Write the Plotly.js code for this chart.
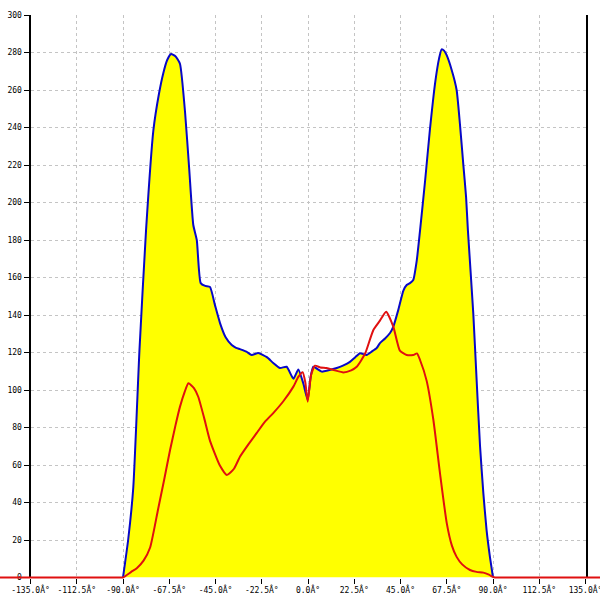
<!DOCTYPE html>
<html>
<head>
<meta charset="utf-8">
<script src="https://cdn.plot.ly/plotly-3.0.1.min.js"></script>
<style>html,body{margin:0;padding:0;background:#fff;}#chart{width:600px;height:600px;}</style>
</head>
<body>
<div id="chart"></div>
<script>
// Blue (total) curve, filled yellow
var blueAngle = [-90, -87.5, -85, -82, -78.8, -75.2, -72.5, -70.4, -68.5, -66.6, -64.5, -62.3, -59.8, -57.8, -55.8, -54.1, -52.2, -50, -47.7, -45.2, -42.8, -40, -37.1, -35, -33.1, -30, -27.4, -24.2, -20, -16.9, -13.6, -10.4, -7.1, -4.7, -2.3, -0.15, 1.3, 2.6, 6.7, 10, 14, 17, 20.4, 23, 25.3, 28.5, 31, 33.4, 35, 37.5, 39.9, 41.5, 44, 46.4, 48, 49.6, 51.2, 52.9, 54.5, 57, 59.3, 62, 63.8, 65, 66.2, 67.4, 69.9, 72.3, 73.9, 75.5, 76.9, 77.8, 80.4, 82, 83.7, 85.3, 86.9, 88.5, 90];
var blueValue = [0, 20, 48, 121, 185, 238.7, 258, 269, 276, 279.2, 278, 274, 248, 218, 188, 180, 157, 155.5, 155, 145, 135.7, 128, 124, 122.5, 121.8, 120.5, 118.7, 119.7, 117.5, 114.4, 111.7, 112.4, 106, 111, 103.6, 94.7, 107, 112.4, 109.8, 110.5, 111.7, 113, 115, 117.5, 119.6, 118.7, 120.5, 122.4, 125, 127.5, 130.4, 133.8, 143, 153, 156, 157, 158.7, 169, 185, 212, 238.7, 265, 277, 281.7, 281, 278.7, 270.7, 260, 242, 221, 203, 185, 141, 106, 70, 45, 25, 11, 0];

// Red curve
var redAngle = [-150, -95, -91, -90, -86, -83.3, -80, -76.8, -73, -70, -67.1, -64.5, -62.3, -60, -58.2, -55.5, -53.4, -50.5, -47.7, -43, -39.5, -36, -33.1, -29, -25, -21, -16.9, -12, -7.1, -4.7, -2.6, -1.3, -0.15, 1.5, 3.4, 6, 9.1, 13, 17.2, 21, 23.7, 26, 28, 31.8, 35, 38, 41.5, 44.7, 48, 51.2, 53, 54.5, 57.7, 61, 64.2, 67.5, 70, 72.3, 75, 78.8, 82, 85.3, 88, 90, 91, 95, 150];
var redValue = [0, 0, 0, 0, 3, 5, 9, 16, 36, 52, 68, 81, 91, 99, 103.6, 101, 96.4, 85, 73, 60, 54.7, 58, 64.4, 71, 77, 83, 87.7, 94, 101.8, 107, 109.5, 104, 93.8, 108, 113, 112, 111.7, 110.5, 109.4, 110.5, 112.4, 116, 120, 132, 137, 141.8, 133.8, 121, 118.7, 118.7, 119.5, 116, 105, 84, 55.7, 29, 17, 11, 7, 4, 3, 2.6, 1.5, 0.3, 0, 0, 0];

// Tick labels
var xTickVals = [-135, -112.5, -90, -67.5, -45, -22.5, 0, 22.5, 45, 67.5, 90, 112.5, 135];
var xTickText = ["-135.0\u00c2\u00b0", "-112.5\u00c2\u00b0", "-90.0\u00c2\u00b0", "-67.5\u00c2\u00b0", "-45.0\u00c2\u00b0", "-22.5\u00c2\u00b0", "0.0\u00c2\u00b0", "22.5\u00c2\u00b0", "45.0\u00c2\u00b0", "67.5\u00c2\u00b0", "90.0\u00c2\u00b0", "112.5\u00c2\u00b0", "135.0\u00c2\u00b0"];
var yTickVals = [0, 20, 40, 60, 80, 100, 120, 140, 160, 180, 200, 220, 240, 260, 280, 300];

var tickFont = {family: "DejaVu Sans Mono, monospace", size: 8, color: "#000"};

var traces = [
  {
    x: blueAngle, y: blueValue, xaxis: "x", yaxis: "y",
    type: "scatter", mode: "lines",
    line: {color: "#0808c8", width: 2, shape: "spline", smoothing: 0.5},
    fill: "tozeroy", fillcolor: "#ffff00",
    hoverinfo: "skip"
  },
  {
    x: redAngle, y: redValue, xaxis: "x2", yaxis: "y2",
    type: "scatter", mode: "lines",
    line: {color: "#e01010", width: 2, shape: "spline", smoothing: 0.5},
    hoverinfo: "skip"
  }
];

var layout = {
  width: 600, height: 600,
  margin: {l: 0, r: 0, t: 11, b: 19, pad: 0},
  paper_bgcolor: "#ffffff",
  plot_bgcolor: "rgba(0,0,0,0)",
  showlegend: false,
  xaxis: {
    domain: [30.5 / 600, 585.5 / 600],
    range: [-135, 135],
    tickmode: "array", tickvals: xTickVals, ticktext: xTickText,
    ticks: "outside", ticklen: 5, tickcolor: "#000", tickwidth: 1,
    ticklabeloverflow: "allow",
    showline: false, zeroline: false,
    showgrid: true, gridcolor: "#c4c4c4", gridwidth: 1, griddash: "3px,3px",
    tickfont: tickFont, fixedrange: true, anchor: "y"
  },
  yaxis: {
    domain: [3.5 / 570, 566 / 570],
    range: [0, 300],
    tickmode: "array", tickvals: yTickVals,
    ticks: "outside", ticklen: 5, tickcolor: "#000", tickwidth: 1,
    ticklabeloverflow: "allow",
    showline: true, linecolor: "#000", linewidth: 2, mirror: true,
    zeroline: false,
    showgrid: true, gridcolor: "#c4c4c4", gridwidth: 1, griddash: "3px,3px",
    tickfont: tickFont, fixedrange: true, anchor: "x"
  },
  xaxis2: {
    domain: [0, 1],
    range: [-135 - 30.5 / (370 / 180), 135 + 14.5 / (370 / 180)],
    visible: false, showgrid: false, zeroline: false, fixedrange: true, anchor: "y2"
  },
  yaxis2: {
    domain: [0, 1],
    range: [-3.5 / 1.875, 300 + 4 / 1.875],
    visible: false, showgrid: false, zeroline: false, fixedrange: true, anchor: "x2"
  }
};

Plotly.newPlot("chart", traces, layout, {displayModeBar: false, staticPlot: true});
</script>
</body>
</html>
